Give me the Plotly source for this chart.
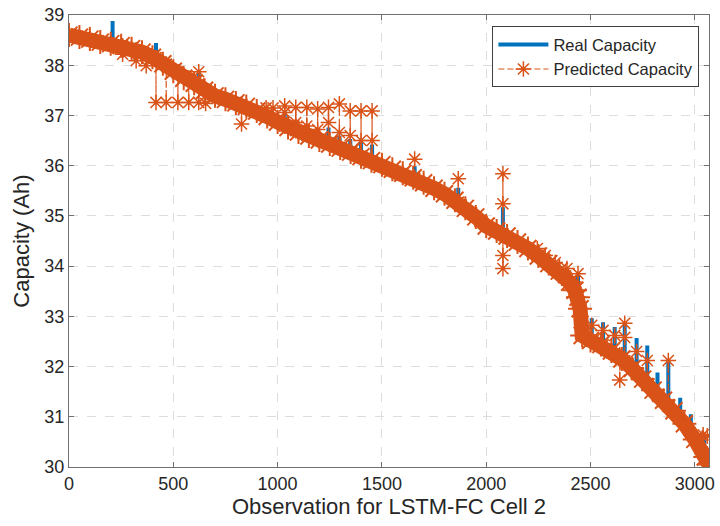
import plotly.graph_objects as go

# ---- data ----
base_obs = [0, 50, 100, 150, 200, 250, 300, 350, 400, 450, 500, 550, 600, 650, 700, 750,
            800, 850, 900, 950, 1000, 1050, 1100, 1150, 1200, 1250, 1300, 1350, 1400, 1450,
            1500, 1550, 1600, 1650, 1700, 1750, 1800, 1850, 1900, 1950, 2000, 2050, 2100,
            2150, 2200, 2250, 2300, 2350, 2400, 2425, 2440, 2450, 2460, 2500, 2550, 2600,
            2650, 2700, 2750, 2800, 2850, 2900, 2950, 3000, 3050, 3068]
base_cap = [38.60, 38.56, 38.52, 38.46, 38.43, 38.39, 38.33, 38.26, 38.16, 38.03, 37.88,
            37.74, 37.64, 37.50, 37.39, 37.32, 37.25, 37.18, 37.09, 36.98, 36.87, 36.76,
            36.67, 36.59, 36.51, 36.43, 36.35, 36.27, 36.18, 36.10, 36.02, 35.93, 35.85,
            35.76, 35.66, 35.55, 35.44, 35.31, 35.15, 34.98, 34.80, 34.70, 34.60, 34.48,
            34.35, 34.20, 34.05, 33.90, 33.68, 33.52, 33.38, 33.15, 32.62, 32.52, 32.44,
            32.31, 32.15, 31.96, 31.75, 31.53, 31.33, 31.12, 30.86, 30.55, 30.20, 30.05]

real_spike_obs = [209, 417, 622, 1034, 1087, 1140, 1192, 1244, 1296, 1348, 1400, 1453, 1657,
                  1866, 2080, 2245, 2331, 2387, 2440, 2506, 2560, 2616, 2664, 2721, 2772,
                  2821, 2873, 2930, 2981, 3045]
real_spike_foot = [38.43, 38.15, 37.62, 36.79, 36.70, 36.61, 36.52, 36.44, 36.36, 36.27,
                   36.19, 36.09, 35.75, 35.27, 34.64, 34.21, 33.96, 33.72, 33.38, 32.51,
                   32.43, 32.27, 32.11, 31.87, 31.66, 31.44, 31.23, 30.98, 30.67, 30.23]
real_spike_top = [38.88, 38.44, 37.89, 37.08, 36.90, 36.80, 36.74, 36.76, 36.60, 36.53,
                  36.47, 36.42, 35.99, 35.56, 35.17, 34.40, 34.10, 33.95, 33.84, 32.96,
                  32.88, 32.79, 32.84, 32.57, 32.42, 31.88, 32.14, 31.38, 31.05, 30.62]

pred_out_obs = [257, 322, 370, 417, 466, 522, 574, 622, 655, 827, 945, 978, 1034, 1087,
                1140, 1192, 1244, 1296, 1348, 1400, 1453, 1657, 1866, 2080, 2245, 2283,
                2331, 2387, 2440, 2506, 2560, 2616, 2640, 2664, 2721, 2772, 2873, 3040, 3060]
pred_out_foot = [38.38, 38.30, 38.22, 38.15, 38.02, 37.87, 37.74, 37.62, 37.51, 37.22,
                 36.99, 36.93, 36.79, 36.70, 36.61, 36.52, 36.44, 36.36, 36.27, 36.19,
                 36.09, 35.75, 35.27, 34.64, 34.21, 34.12, 33.96, 33.72, 33.38, 32.51,
                 32.43, 32.27, 32.19, 32.11, 31.87, 31.66, 31.23, 30.27, 30.13]
pred_out_vals = [[38.22], [38.09], [37.99], [37.26], [37.26], [37.26], [37.26],
                 [37.87, 37.26], [37.24], [36.83], [37.15], [37.15], [37.19, 37.06],
                 [37.16, 36.86], [37.16, 36.79], [37.13, 36.72], [37.16, 36.86],
                 [37.23, 36.66], [37.09, 36.60], [37.09, 36.50], [37.09, 36.50], [36.13],
                 [35.74], [35.84, 35.24, 34.21, 33.95], [34.35], [34.21], [34.07], [33.95],
                 [33.85], [32.82], [32.72], [32.62], [31.73], [32.86, 32.58], [32.30],
                 [32.12], [32.12], [30.64], [30.62]]

x_ticks = [0, 500, 1000, 1500, 2000, 2500, 3000]
y_ticks = [30, 31, 32, 33, 34, 35, 36, 37, 38, 39]


def merge(groups):
    groups = sorted(groups, key=lambda g: g[0])
    xs, ys = [], []
    for o, vals in groups:
        for v in vals:
            xs.append(o)
            ys.append(v)
    return xs, ys


real_groups = [(o, [v]) for o, v in zip(base_obs, base_cap)]
real_groups += [(o, [f, t, f]) for o, f, t in zip(real_spike_obs, real_spike_foot, real_spike_top)]
real_x, real_y = merge(real_groups)

pred_groups = [(o, [v]) for o, v in zip(base_obs, base_cap)]
pred_groups += [(o, [f] + vs + [f]) for o, f, vs in zip(pred_out_obs, pred_out_foot, pred_out_vals)]
pred_x, pred_y = merge(pred_groups)

BLUE = "#0072BD"
ORANGE = "#D95319"
FONT = "Liberation Sans, Arial, sans-serif"

fig = go.Figure()
fig.add_trace(go.Scatter(x=real_x, y=real_y, mode="lines", name="Real Capacity",
                         line=dict(color=BLUE, width=4)))
# dense cloud of predicted points (drawn as a thick star band)
fig.add_trace(go.Scatter(x=base_obs, y=base_cap, mode="lines+markers", showlegend=False,
                         hoverinfo="skip", line=dict(color=ORANGE, width=15),
                         marker=dict(symbol="asterisk-open", size=20,
                                     line=dict(color=ORANGE, width=2))))
fig.add_trace(go.Scatter(x=pred_x, y=pred_y, mode="lines+markers", name="Predicted Capacity",
                         line=dict(color=ORANGE, width=1.2, dash="6px,3px"),
                         marker=dict(symbol="asterisk-open", size=13,
                                     line=dict(color=ORANGE, width=1.5))))

axis_common = dict(showline=True, linecolor="#707070", linewidth=1, mirror="ticks",
                   ticks="inside", ticklen=5, tickcolor="#707070", ticklabeloverflow="allow",
                   showgrid=True, gridcolor="#DDDDDD", griddash="dash", gridwidth=1,
                   zeroline=False, tickfont=dict(family=FONT, size=18, color="#262626"))

fig.update_xaxes(range=[0, 3068], tickvals=x_ticks, ticktext=[str(t) for t in x_ticks],
                 title_text="Observation for LSTM-FC Cell 2", title_standoff=6,
                 title_font=dict(family=FONT, size=22, color="#262626"), **axis_common)
fig.update_yaxes(range=[30, 39], tickvals=y_ticks, ticktext=[str(t) for t in y_ticks],
                 title_text="Capacity (Ah)", title_standoff=8,
                 title_font=dict(family=FONT, size=22, color="#262626"), **axis_common)

fig.update_layout(
    width=720, height=526,
    margin=dict(l=69, r=5, t=14, b=59),
    plot_bgcolor="white", paper_bgcolor="white",
    font=dict(family=FONT, color="#262626"),
    legend=dict(x=0.985, y=0.975, xanchor="right", yanchor="top",
                bgcolor="white", bordercolor="#404040", borderwidth=1,
                font=dict(family=FONT, size=16.5, color="#262626"),
                itemwidth=50, tracegroupgap=0),
    showlegend=True,
)

fig.write_html("out.html")
